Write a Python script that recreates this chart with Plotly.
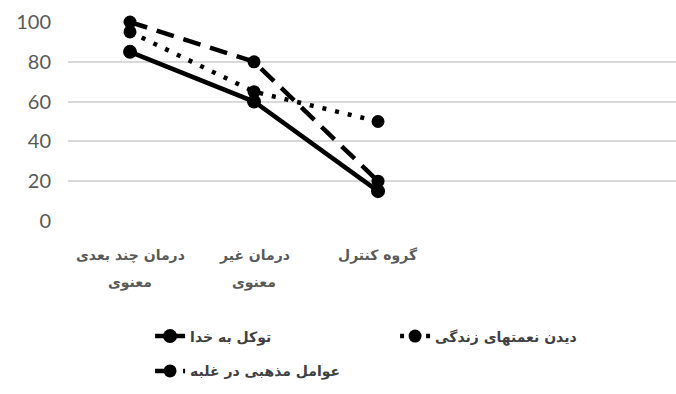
import plotly.graph_objects as go

categories = ["درمان چند بعدی معنوی", "درمان غیر معنوی", "گروه کنترل"]
category_lines = [["درمان چند بعدی", "معنوی"], ["درمان غیر", "معنوی"], ["گروه کنترل"]]
series_names = ["توکل به خدا", "دیدن نعمتهای زندگی", "عوامل مذهبی در غلبه"]
tavakkol = [85, 60, 15]
nemat = [95, 65, 50]
avamel = [100, 80, 20]
y_ticks = [0, 20, 40, 60, 80, 100]

xpos = list(range(len(categories)))

fig = go.Figure()
fig.add_trace(go.Scatter(
    x=xpos, y=tavakkol, name=series_names[0], mode="lines+markers",
    line=dict(color="black", width=4.5),
    marker=dict(symbol="circle", size=14, color="black"),
    cliponaxis=False, legend="legend"))
fig.add_trace(go.Scatter(
    x=xpos, y=nemat, name=series_names[1], mode="lines+markers",
    line=dict(color="black", width=4.5, dash="4px,9px"),
    marker=dict(symbol="circle", size=13, color="black"),
    cliponaxis=False, legend="legend"))
fig.add_trace(go.Scatter(
    x=xpos, y=avamel, name=series_names[2], mode="lines+markers",
    line=dict(color="black", width=4.5, dash="18px,10px"),
    marker=dict(symbol="circle", size=13, color="black"),
    cliponaxis=False, legend="legend2"))

legend_font = dict(family="DejaVu Sans", size=14, color="#404040", weight="bold")
label_font = dict(family="DejaVu Sans", size=14, color="#595959", weight="bold")

annotations = []
line_y = [-0.171, -0.307]
for xi, lines in zip(xpos, category_lines):
    for li, txt in enumerate(lines):
        annotations.append(dict(
            x=xi, y=line_y[li], xref="x", yref="paper", text=txt,
            showarrow=False, xanchor="center", yanchor="middle", font=label_font))

fig.update_layout(
    width=676, height=394,
    margin=dict(l=68, r=0, t=22, b=173),
    paper_bgcolor="white", plot_bgcolor="white",
    showlegend=True,
    legend=dict(orientation="h", x=0.135, y=-0.5, xanchor="left", yanchor="top",
                entrywidth=200, entrywidthmode="pixels",
                font=legend_font, bgcolor="rgba(0,0,0,0)"),
    legend2=dict(orientation="h", x=0.135, y=-0.675, xanchor="left", yanchor="top",
                 font=legend_font, bgcolor="rgba(0,0,0,0)"),
    annotations=annotations,
)
fig.update_xaxes(
    range=[-0.5, 4.403], tickmode="array", tickvals=xpos, ticktext=["", "", ""],
    showgrid=False, zeroline=False, showline=False, ticks="",
)
fig.update_yaxes(
    range=[0, 100], tickmode="array", tickvals=y_ticks,
    showgrid=True, gridcolor="#d9d9d9", gridwidth=1.5, zeroline=False, showline=False,
    ticks="", tickfont=dict(family="Lato", size=20, color="#595959"),
    ticklabelstandoff=16,
)

fig.write_html("out.html")
